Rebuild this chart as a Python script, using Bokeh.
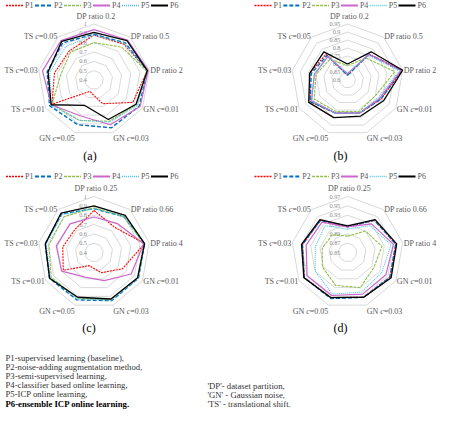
import math
from bokeh.plotting import figure
from bokeh.models import Range1d
from bokeh.core.properties import value
from bokeh.embed import file_html
from bokeh.resources import INLINE

# ---------------- data ----------------
series_names = ["P1", "P2", "P3", "P4", "P5", "P6"]
categories_ab = ["DP ratio 0.2", "DP ratio 0.5", "DP ratio 2", "GN c=0.01", "GN c=0.03",
                 "GN c=0.05", "TS c=0.01", "TS c=0.03", "TS c=0.05"]
categories_cd = ["DP ratio 0.25", "DP ratio 0.66", "DP ratio 4", "GN c=0.01", "GN c=0.03",
                 "GN c=0.05", "TS c=0.01", "TS c=0.03", "TS c=0.05"]

values_a = [
    [0.88, 0.90, 0.98, 0.88, 0.67, 0.53, 0.92, 0.83, 0.81],
    [0.89, 0.92, 0.98, 0.96, 0.945, 0.91, 0.95, 0.91, 0.92],
    [0.80, 0.86, 0.97, 0.93, 0.87, 0.86, 0.92, 0.76, 0.79],
    [0.94, 0.96, 0.99, 0.97, 0.91, 0.81, 0.93, 0.96, 0.95],
    [0.88, 0.91, 0.98, 0.94, 0.88, 0.86, 0.94, 0.88, 0.87],
    [0.91, 0.95, 0.98, 0.92, 0.85, 0.69, 0.93, 0.90, 0.94],
]
values_b = [
    [0.63, 0.81, 0.95, 0.84, 0.82, 0.82, 0.87, 0.84, 0.81],
    [0.63, 0.81, 0.94, 0.84, 0.82, 0.82, 0.87, 0.83, 0.80],
    [0.69, 0.78, 0.90, 0.80, 0.81, 0.81, 0.84, 0.80, 0.77],
    [0.64, 0.81, 0.94, 0.83, 0.82, 0.82, 0.86, 0.81, 0.79],
    [0.64, 0.80, 0.93, 0.82, 0.82, 0.82, 0.86, 0.81, 0.79],
    [0.70, 0.83, 0.95, 0.86, 0.84, 0.85, 0.88, 0.84, 0.83],
]
values_c = [
    [0.85, 0.75, 0.95, 0.75, 0.63, 0.55, 0.78, 0.74, 0.72],
    [0.87, 0.90, 0.95, 0.95, 0.95, 0.94, 0.95, 0.93, 0.94],
    [0.88, 0.90, 0.94, 0.94, 0.94, 0.92, 0.93, 0.89, 0.90],
    [0.78, 0.80, 0.94, 0.86, 0.72, 0.68, 0.80, 0.81, 0.80],
    [0.87, 0.90, 0.95, 0.95, 0.94, 0.93, 0.94, 0.92, 0.93],
    [0.90, 0.92, 0.95, 0.94, 0.93, 0.91, 0.95, 0.93, 0.95],
]
values_d = [
    [0.905, 0.94, 0.955, 0.955, 0.952, 0.953, 0.957, 0.948, 0.94],
    [0.905, 0.94, 0.955, 0.955, 0.952, 0.955, 0.957, 0.948, 0.94],
    [0.885, 0.91, 0.925, 0.915, 0.93, 0.925, 0.912, 0.905, 0.90],
    [0.905, 0.93, 0.95, 0.945, 0.945, 0.948, 0.95, 0.94, 0.935],
    [0.90, 0.925, 0.945, 0.935, 0.94, 0.945, 0.93, 0.92, 0.925],
    [0.907, 0.942, 0.957, 0.958, 0.952, 0.953, 0.958, 0.95, 0.942],
]

ticks_a = ["0.4", "0.5", "0.6", "0.7", "0.8", "0.9", "1"]
ticks_b = ["0.6", "0.65", "0.7", "0.75", "0.8", "0.85", "0.9", "0.95"]
ticks_c = ["0.4", "0.5", "0.6", "0.7", "0.8", "0.9", "1"]
ticks_d = ["0.85", "0.87", "0.89", "0.91", "0.93", "0.95", "0.97"]

panel_labels = ["(a)", "(b)", "(c)", "(d)"]

legend_lines = ["P1-supervised learning (baseline),",
                "P2-noise-adding augmentation method,",
                "P3-semi-supervised learning,",
                "P4-classifier based online learning,",
                "P5-ICP online learning,",
                "P6-ensemble ICP online learning."]
abbrev_lines = ["'DP'- dataset partition,",
                "'GN' - Gaussian noise,",
                "'TS' - translational shift."]

# ---------------- style ----------------
colors = ["#FF0000", "#0070C0", "#92C04A", "#CC66CC", "#4FC3E6", "#000000"]
dashes = ["2 1", "4 2", "3 1", "solid", "1 1", "solid"]
widths = [1.1, 1.4, 1.1, 1.2, 1.1, 1.3]
leg_widths = [1.4, 1.8, 1.4, 2.2, 1.4, 1.8]

SERIF = value("'Liberation Serif', 'Times New Roman', serif")
W, H = 436, 410
R = 56.0

p = figure(width=W, height=H, x_range=Range1d(0, W), y_range=Range1d(H, 0),
           output_backend="svg", toolbar_location=None, min_border=0,
           x_axis_location=None, y_axis_location=None)
p.grid.visible = False
p.outline_line_color = None
p.background_fill_color = "white"
p.border_fill_color = "white"

METRIC = {' ': 250, 'D': 722, 'P': 556, 'G': 722, 'N': 722, 'T': 611, 'S': 556, 'r': 333,
          'a': 444, 't': 278, 'i': 278, 'o': 500, 'c': 444, '=': 564, '.': 250}


def text_w(s, size):
    return sum(METRIC.get(ch, 500) for ch in s) / 1000.0 * size


def angle(k):
    return math.radians(90 - 40 * k)


def draw_label(cat, x, y, align, baseline, size=8.0, color="#595959"):
    if " c=" in cat:
        a, b = cat.split(" c=")
        parts = [(a + " ", "normal"), ("c", "italic"), ("=" + b, "normal")]
    else:
        parts = [(cat, "normal")]
    total = sum(text_w(t, size) for t, _ in parts)
    if align == "left":
        x0 = x
    elif align == "right":
        x0 = x - total
    else:
        x0 = x - total / 2
    for t, st in parts:
        p.text(x=[x0], y=[y], text=[t], text_font=SERIF, text_font_size=value(f"{size}px"),
               text_font_style=st, text_color=color, text_align="left",
               text_baseline=baseline)
        x0 += text_w(t, size)


def radar(cx, cy, cats, vals, ticks, label, leg_x0, leg_stride, leg_dy, lab_dx):
    tvals = [float(t) for t in ticks]
    vmin, vmax = tvals[0], tvals[-1]

    def rad(v):
        return (v - vmin) / (vmax - vmin) * R

    for tv in tvals[1:]:
        r = rad(tv)
        xs = [cx + r * math.cos(angle(k)) for k in range(10)]
        ys = [cy - r * math.sin(angle(k)) for k in range(10)]
        p.line(xs, ys, line_color="#D9D9D9", line_width=1)
    for t, tv in zip(ticks, tvals):
        p.text(x=[cx - 7], y=[cy - rad(tv)], text=[t], text_font=SERIF,
               text_font_size=value("6.3px"), text_color="#8C8C8C",
               text_align="right", text_baseline="middle")
    for i, row in enumerate(vals):
        xs = [cx + rad(v) * math.cos(angle(k)) for k, v in enumerate(row)]
        ys = [cy - rad(v) * math.sin(angle(k)) for k, v in enumerate(row)]
        xs.append(xs[0]); ys.append(ys[0])
        p.line(xs, ys, line_color=colors[i], line_width=widths[i], line_dash=dashes[i])
    for k, cat in enumerate(cats):
        a = angle(k)
        ca, sa = math.cos(a), math.sin(a)
        if k == 0:
            draw_label(cat, cx + 2, cy - R - 3.5, "center", "bottom")
        elif k in (1, 2, 3):
            draw_label(cat, cx + (R + 1) * ca, cy - (R + 1) * sa + 0.5, "left", "middle")
        elif k == 4:
            draw_label(cat, cx + R * ca, cy - R * sa + 1.5, "left", "top")
        elif k == 5:
            draw_label(cat, cx + R * ca, cy - R * sa + 1.5, "right", "top")
        else:
            draw_label(cat, cx + (R + 1) * ca, cy - (R + 1) * sa + 0.5, "right", "middle")
    ly = cy + leg_dy
    for i, name in enumerate(series_names):
        tx = cx + leg_x0 + leg_stride * i
        p.line([tx - 19, tx - 2], [ly, ly], line_color=colors[i], line_width=leg_widths[i],
               line_dash=dashes[i])
        p.text(x=[tx], y=[ly], text=[name], text_font=SERIF, text_font_size=value("8px"),
               text_color="#595959", text_align="left", text_baseline="middle")
    p.text(x=[cx + lab_dx], y=[cy + 75.5], text=[label], text_font=SERIF,
           text_font_size=value("12px"), text_color="#000000", text_align="center",
           text_baseline="middle")


radar(93.5, 79.5, categories_ab, values_a, ticks_a, panel_labels[0], -69, 29, -74.5, -4)
radar(347.0, 79.5, categories_ab, values_b, ticks_b, panel_labels[1], -74, 28.8, -74.5, -7)
radar(93.5, 252.0, categories_cd, values_c, ticks_c, panel_labels[2], -69, 29, -76, -5)
radar(347.0, 252.0, categories_cd, values_d, ticks_d, panel_labels[3], -74, 28.8, -76, -7)

ys_left = [357, 366.3, 375.6, 384.7, 393.8, 403]
for i, (t, yy) in enumerate(zip(legend_lines, ys_left)):
    p.text(x=[5], y=[yy], text=[t], text_font=SERIF, text_font_size=value("8.7px"),
           text_font_style="bold" if i == 5 else "normal",
           text_color="#000000" if i == 5 else "#333333",
           text_align="left", text_baseline="middle")
for t, yy in zip(abbrev_lines, [385.5, 394.6, 403.8]):
    p.text(x=[207], y=[yy], text=[t], text_font=SERIF, text_font_size=value("8.7px"),
           text_color="#333333", text_align="left", text_baseline="middle")

open("out.html", "w").write(file_html(p, INLINE))
